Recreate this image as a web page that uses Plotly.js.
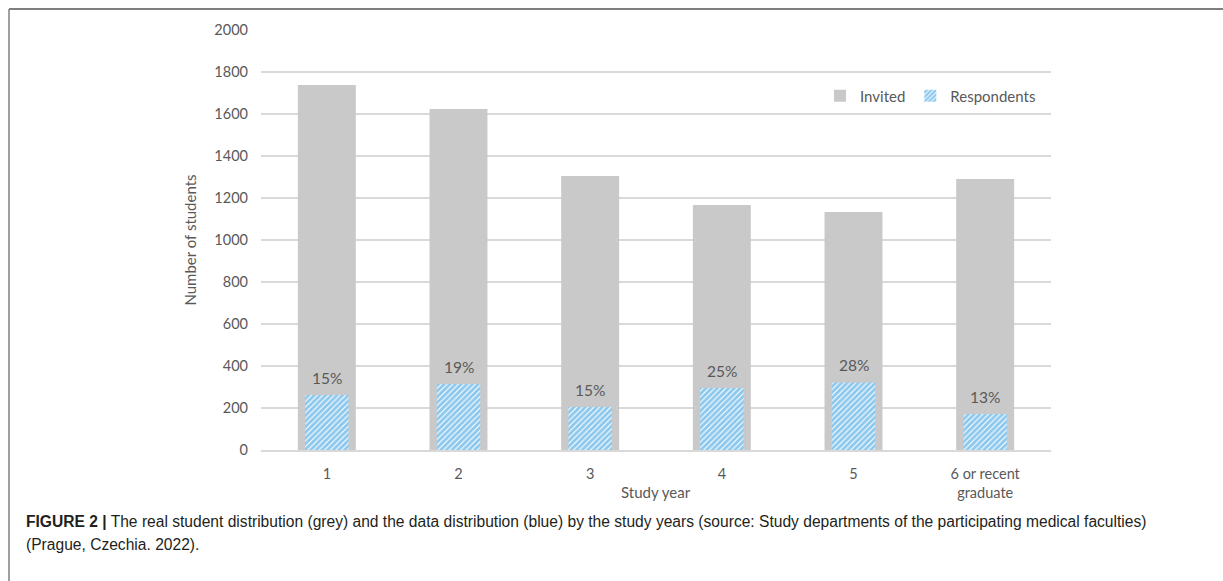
<!DOCTYPE html>
<html>
<head>
<meta charset="utf-8">
<script src="https://cdn.plot.ly/plotly-3.0.1.min.js"></script>
<style>html,body{margin:0;padding:0;background:#fff;}#chart{width:1223px;height:581px;}</style>
</head>
<body>
<div id="chart"></div>
<script>
const categories = ["1", "2", "3", "4", "5", "6 or recent<br>graduate"];
const invited = [1738, 1624, 1305, 1167, 1133, 1290];
const respondents = [262, 314, 205, 295, 322, 172];
const respondentShare = ["15%", "19%", "15%", "25%", "28%", "13%"];
const xTitle = "Study year";
const yTitle = "Number of students";
const captionBold = "FIGURE 2 |";
const captionLine1 = " The real student distribution (grey) and the data distribution (blue) by the study years (source: Study departments of the participating medical faculties)";
const captionLine2 = "(Prague, Czechia. 2022).";

const FONT = "Lato, 'Noto Sans', sans-serif";
const tickFont = {family: FONT, size: 14.5, color: "#595959"};

const traces = [
  {
    type: "bar", name: "Invited", x: categories, y: invited,
    width: 0.44, marker: {color: "#c9c9c9"}, hoverinfo: "skip"
  },
  {
    type: "bar", name: "Respondents", x: categories, y: respondents,
    width: 0.33,
    marker: {color: "#ffffff", pattern: {shape: "/", fgcolor: "#1a91dc", bgcolor: "#ffffff", size: 4, solidity: 0.72, fillmode: "overlay"}},
    hoverinfo: "skip"
  }
];

const W = 790, H = 420, L = 261, T = 30;
const px = v => (v - L) / W;
const py = v => (T + H - v) / H;

const shareLabels = categories.map((c, i) => ({
  xref: "x", yref: "y", x: i, y: respondents[i], yanchor: "bottom", yshift: 6,
  showarrow: false, text: respondentShare[i],
  font: {family: FONT, size: 15.5, color: "#595959"}
}));

const layout = {
  width: 1223, height: 581,
  margin: {l: 261, r: 172, t: 30, b: 131},
  paper_bgcolor: "#ffffff", plot_bgcolor: "#ffffff",
  barmode: "overlay",
  showlegend: true,
  legend: {orientation: "h", x: px(820), y: py(96), xanchor: "left", yanchor: "middle",
    font: {family: FONT, size: 15, color: "#595959"},
    itemwidth: 30, tracegroupgap: 0, bgcolor: "rgba(0,0,0,0)"},
  xaxis: {
    type: "category",
    tickfont: tickFont, showgrid: false, ticks: "", ticklabelstandoff: 10,
    showline: true, linecolor: "#d9d9d9", linewidth: 1.5,
    automargin: false, fixedrange: true
  },
  yaxis: {
    range: [0, 2000], dtick: 200, tickfont: tickFont, ticks: "", ticklabelstandoff: 12,
    showgrid: true, gridcolor: "#d9d9d9", gridwidth: 1.5, zeroline: false,
    showline: false,
    title: {text: yTitle, font: {family: FONT, size: 15, color: "#595959"}, standoff: 14},
    automargin: false, fixedrange: true
  },
  shapes: [
    {type: "line", xref: "paper", yref: "paper", x0: px(9), x1: px(1223), y0: py(9), y1: py(9), line: {color: "#7f7f7f", width: 2}},
    {type: "line", xref: "paper", yref: "paper", x0: px(9), x1: px(9), y0: py(9), y1: py(581), line: {color: "#7f7f7f", width: 1.5}}
  ],
  annotations: shareLabels.concat([
    {xref: "paper", yref: "paper", x: px(656), y: py(492), xanchor: "center", yanchor: "middle", showarrow: false,
     text: xTitle, font: {family: FONT, size: 15, color: "#595959"}},
    {xref: "paper", yref: "paper", x: px(24), y: py(521), xanchor: "left", yanchor: "middle", showarrow: false, align: "left",
     text: "<b>" + captionBold + "</b>" + captionLine1,
     font: {family: "'Liberation Sans Narrow', 'Liberation Sans', Arial, sans-serif", size: 15.6, color: "#231f20"}},
    {xref: "paper", yref: "paper", x: px(24), y: py(544), xanchor: "left", yanchor: "middle", showarrow: false, align: "left",
     text: captionLine2,
     font: {family: "'Liberation Sans Narrow', 'Liberation Sans', Arial, sans-serif", size: 15.6, color: "#231f20"}}
  ])
};

Plotly.newPlot("chart", traces, layout, {displayModeBar: false, staticPlot: true});
</script>
</body>
</html>
